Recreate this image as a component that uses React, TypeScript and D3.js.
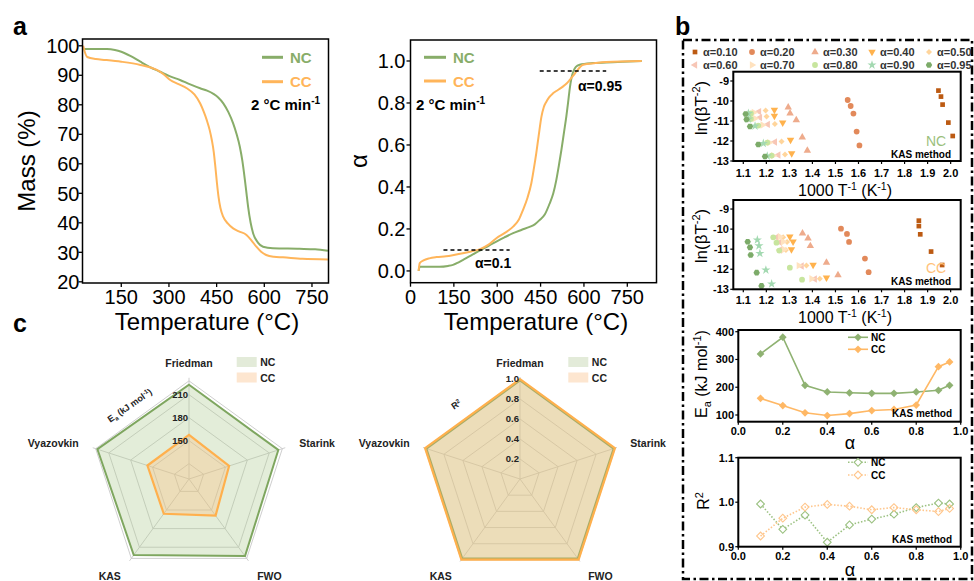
import React from 'react';
import * as d3 from 'd3';

const FONT = "'Liberation Sans', Arial, Helvetica, sans-serif";
const NC = '#88ad69';
const CC = '#ffb55a';

// ---------- Panel a: TGA mass ----------
const ncMassT = [30, 60, 105, 130, 150, 180, 210, 240, 272, 300, 335, 365, 398, 420, 440, 455, 471, 487, 502, 513, 523, 531, 539, 544, 549, 557, 565, 580, 596, 627, 711, 760, 800];
const ncMass = [98.9, 98.9, 98.9, 98.6, 98.0, 96.5, 94.6, 92.8, 91.2, 89.8, 88.4, 87.0, 85.6, 84.8, 83.7, 82.5, 80.5, 77.5, 73.7, 70, 65.8, 61, 54.5, 50, 45.5, 40, 36.4, 33.3, 31.9, 31.4, 31.2, 31.0, 30.5];
const ccMassT = [30, 35, 43, 70, 100, 150, 210, 262, 285, 304, 330, 356, 380, 398, 410, 419, 428, 435, 441, 446, 451, 456, 462, 471, 485, 502, 520, 544, 560, 575, 590, 606, 630, 659, 720, 800];
const ccMass = [100, 98, 96.2, 95.5, 95.2, 94.6, 93.5, 91.8, 90.2, 88.4, 87.0, 85.6, 83.5, 80.5, 77.5, 74.8, 71.5, 68, 64, 59, 53.5, 48.8, 45, 42, 39.8, 38.1, 37.1, 35.9, 34, 31.9, 30.2, 29.1, 28.5, 28.3, 27.8, 27.6];

// ---------- Panel a: conversion ----------
const ncAlphaT = [28, 32, 60, 100, 130, 147, 165, 181, 210, 239, 270, 297, 325, 355, 385, 412, 430, 447, 465, 481, 494, 504, 513, 522, 531, 539, 545, 551, 557, 563, 572, 585, 631, 700, 800];
const ncAlpha = [0, 0.02, 0.02, 0.02, 0.024, 0.029, 0.04, 0.052, 0.074, 0.097, 0.12, 0.14, 0.16, 0.18, 0.196, 0.21, 0.222, 0.243, 0.27, 0.32, 0.37, 0.43, 0.5, 0.576, 0.66, 0.735, 0.8, 0.87, 0.92, 0.95, 0.972, 0.982, 0.99, 0.994, 1.0];
const ccAlphaT = [28, 32, 45, 65, 90, 123, 150, 181, 210, 239, 270, 297, 325, 355, 375, 389, 405, 418, 427, 435, 443, 453, 461, 470, 480, 493, 510, 527, 540, 551, 563, 574, 586, 597, 640, 677, 800];
const ccAlpha = [0, 0.037, 0.05, 0.06, 0.066, 0.07, 0.076, 0.084, 0.093, 0.103, 0.125, 0.156, 0.18, 0.211, 0.245, 0.29, 0.35, 0.418, 0.49, 0.56, 0.64, 0.735, 0.78, 0.806, 0.828, 0.846, 0.862, 0.878, 0.893, 0.91, 0.93, 0.95, 0.97, 0.982, 0.99, 0.995, 1.0];

const massTicks = [20, 30, 40, 50, 60, 70, 80, 90, 100];
const tempTicksA = [150, 300, 450, 600, 750];
const tempTicksB = [0, 150, 300, 450, 600, 750];
const alphaTicks = [0, 0.2, 0.4, 0.6, 0.8, 1.0];

// ---------- Panel b: KAS ----------
const alphaLevels = ['0.10', '0.20', '0.30', '0.40', '0.50', '0.60', '0.70', '0.80', '0.90', '0.95'];
const alphaColors = ['#bc5a12', '#e2895a', '#eeab8c', '#ffb24d', '#ffd59c', '#f7c6b6', '#ffe2bf', '#c7e59e', '#a3d9b1', '#7cab69'];
const alphaShapes = ['square', 'circle', 'triUp', 'triDown', 'diamond', 'triLeft', 'triRight', 'circle', 'star', 'hex'];

const ncKasX = [
  [1.947, 1.958, 1.965, 1.99, 2.009],
  [1.553, 1.566, 1.578, 1.592, 1.604],
  [1.295, 1.303, 1.33, 1.356, 1.378],
  [1.235, 1.235, 1.271, 1.305, 1.31],
  [1.197, 1.201, 1.237, 1.266, 1.281],
  [1.168, 1.172, 1.206, 1.237, 1.252],
  [1.146, 1.151, 1.184, 1.213, 1.23],
  [1.133, 1.133, 1.165, 1.204, 1.223],
  [1.122, 1.122, 1.151, 1.187, 1.204],
  [1.11, 1.114, 1.129, 1.165, 1.194],
];
const ncKasY = [
  [-9.48, -9.78, -10.18, -11.08, -11.75],
  [-9.95, -10.25, -10.63, -11.53, -12.22],
  [-10.32, -10.62, -10.95, -11.82, -12.48],
  [-10.45, -10.75, -11.08, -11.95, -12.62],
  [-10.48, -10.78, -11.15, -12.03, -12.67],
  [-10.53, -10.83, -11.17, -12.05, -12.7],
  [-10.57, -10.87, -11.2, -12.08, -12.73],
  [-10.62, -10.9, -11.23, -12.08, -12.73],
  [-10.62, -10.9, -11.25, -12.12, -12.75],
  [-10.65, -10.92, -11.28, -12.17, -12.78],
];
const ccKasX = [
  [1.862, 1.862, 1.868, 1.915, 1.963],
  [1.524, 1.55, 1.559, 1.628, 1.644],
  [1.357, 1.381, 1.391, 1.461, 1.511],
  [1.302, 1.316, 1.309, 1.403, 1.461],
  [1.273, 1.29, 1.285, 1.374, 1.432],
  [1.244, 1.259, 1.259, 1.353, 1.41],
  [1.259, 1.273, 1.276, 1.341, 1.396],
  [1.23, 1.244, 1.256, 1.302, 1.355],
  [1.161, 1.168, 1.172, 1.198, 1.223],
  [1.119, 1.129, 1.132, 1.158, 1.179],
];
const ccKasY = [
  [-9.58, -9.85, -10.26, -11.12, -11.79],
  [-9.98, -10.24, -10.64, -11.47, -12.15],
  [-10.21, -10.46, -10.84, -11.67, -12.29],
  [-10.38, -10.63, -11.01, -11.79, -12.42],
  [-10.41, -10.64, -11.04, -11.82, -12.47],
  [-10.41, -10.66, -11.04, -11.84, -12.49],
  [-10.38, -10.63, -11.02, -11.82, -12.47],
  [-10.41, -10.68, -11.07, -11.92, -12.52],
  [-10.54, -10.83, -11.21, -12.04, -12.73],
  [-10.63, -10.91, -11.29, -12.17, -12.83],
];
const kasXTicks = [1.1, 1.2, 1.3, 1.4, 1.5, 1.6, 1.7, 1.8, 1.9, 2.0];
const kasYTicks = [-13, -12, -11, -10, -9];

const conv = [0.1, 0.2, 0.3, 0.4, 0.5, 0.6, 0.7, 0.8, 0.9, 0.95];
const eaNC = [320, 380, 207, 183, 180, 178, 178, 183, 189, 207];
const eaCC = [160, 134, 108, 98, 105, 116, 120, 136, 274, 291];
const r2NC = [0.996, 0.939, 0.971, 0.91, 0.949, 0.962, 0.973, 0.988, 0.998, 0.996];
const r2CC = [0.924, 0.964, 0.989, 0.995, 0.991, 0.983, 0.988, 0.983, 0.979, 0.986];
const convTicks = [0, 0.2, 0.4, 0.6, 0.8, 1.0];
const eaTicks = [100, 200, 300, 400];
const r2Ticks = [0.9, 1.0, 1.1];

// ---------- Panel c: radar ----------
const methods = ['Friedman', 'Starink', 'FWO', 'KAS', 'Vyazovkin'];
const radarEaNC = [223, 222.5, 224.3, 222.6, 225.6];
const radarEaCC = [157.7, 155, 159, 156, 157];
const radarR2NC = [0.986, 0.984, 0.982, 0.982, 0.984];
const radarR2CC = [0.999, 0.998, 0.997, 0.997, 0.998];
const eaRings = [120, 150, 180, 210, 228];
const eaRingLabels = [150, 180, 210];
const r2Rings = [0.2, 0.4, 0.6, 0.8, 1.0];
const r2RingLabels = [0.2, 0.4, 0.6, 0.8, 1.0];

function linePath(xs: number[], ys: number[], x: any, y: any, smooth = true) {
  const g = d3.line<number>().x((i) => x(xs[i])).y((i) => y(ys[i]));
  if (smooth) g.curve(d3.curveMonotoneX);
  return g(d3.range(xs.length)) || '';
}

function symPath(kind: string): { d: string; rot: number } {
  const tri = d3.symbol(d3.symbolTriangle, 24)() || '';
  switch (kind) {
    case 'square': return { d: d3.symbol(d3.symbolSquare, 22)() || '', rot: 0 };
    case 'circle': return { d: d3.symbol(d3.symbolCircle, 26)() || '', rot: 0 };
    case 'triUp': return { d: tri, rot: 0 };
    case 'triDown': return { d: tri, rot: 180 };
    case 'triLeft': return { d: tri, rot: -90 };
    case 'triRight': return { d: tri, rot: 90 };
    case 'diamond': return { d: d3.symbol(d3.symbolSquare, 18)() || '', rot: 45 };
    case 'star': return { d: d3.symbol(d3.symbolStar, 26)() || '', rot: 0 };
    case 'hex': {
      const r = 3.2;
      const pts = d3.range(6).map((k) => [r * Math.cos((k * Math.PI) / 3), r * Math.sin((k * Math.PI) / 3)]);
      return { d: 'M' + pts.map((p) => p.join(',')).join('L') + 'Z', rot: 0 };
    }
  }
  return { d: '', rot: 0 };
}

function Marker({ x, y, kind, color }: { x: number; y: number; kind: string; color: string }) {
  const s = symPath(kind);
  return <path d={s.d} transform={`translate(${x},${y}) rotate(${s.rot})`} fill={color} />;
}

// ---------- Panel a components ----------
function MassPanel() {
  const x = d3.scaleLinear().domain([28, 802]).range([82.5, 328.5]);
  const y = d3.scaleLinear().domain([19.6, 102.3]).range([283, 39]);
  return (
    <g>
      <path d={linePath(ncMassT, ncMass, x, y)} fill="none" stroke={NC} strokeWidth={2} />
      <path d={linePath(ccMassT, ccMass, x, y)} fill="none" stroke={CC} strokeWidth={2} />
      <rect x={82.5} y={39} width={246} height={244} fill="none" stroke="#000" strokeWidth={1.5} />
      {massTicks.map((t) => (
        <g key={t}>
          <line x1={82.5} x2={78.5} y1={y(t)} y2={y(t)} stroke="#000" strokeWidth={1.3} />
          <text x={79.5} y={y(t)} dy="0.36em" textAnchor="end" fontSize={20}>{t}</text>
        </g>
      ))}
      {tempTicksA.map((t) => (
        <g key={t}>
          <line x1={x(t)} x2={x(t)} y1={283} y2={287} stroke="#000" strokeWidth={1.3} />
          <text x={x(t)} y={304} textAnchor="middle" fontSize={20}>{t}</text>
        </g>
      ))}
      <text transform="translate(35,161) rotate(-90)" textAnchor="middle" fontSize={24}>Mass (%)</text>
      <text x={207} y={330} textAnchor="middle" fontSize={24}>Temperature (°C)</text>
      <line x1={262} x2={283} y1={57.3} y2={57.3} stroke={NC} strokeWidth={3} />
      <text x={290} y={63} fontSize={15} fontWeight="bold" fill={NC}>NC</text>
      <line x1={262} x2={283} y1={81.7} y2={81.7} stroke={CC} strokeWidth={3} />
      <text x={290} y={87.3} fontSize={15} fontWeight="bold" fill={CC}>CC</text>
      <text x={251} y={110} fontSize={15} fontWeight="bold">2 °C min<tspan dy={-6} fontSize={10}>-1</tspan></text>
    </g>
  );
}

function AlphaPanel() {
  const x = d3.scaleLinear().domain([0, 851]).range([410.5, 656.5]);
  const y = d3.scaleLinear().domain([-0.056, 1.1]).range([282.7, 40]);
  return (
    <g>
      <path d={linePath(ncAlphaT, ncAlpha, x, y)} fill="none" stroke={NC} strokeWidth={2} />
      <path d={linePath(ccAlphaT, ccAlpha, x, y)} fill="none" stroke={CC} strokeWidth={2} />
      <line x1={x(447)} x2={x(677)} y1={y(0.952)} y2={y(0.952)} stroke="#000" strokeWidth={1.5} strokeDasharray="4,3" />
      <line x1={x(114)} x2={x(343)} y1={y(0.1)} y2={y(0.1)} stroke="#000" strokeWidth={1.5} strokeDasharray="4,3" />
      <text x={578} y={91} fontSize={14} fontWeight="bold">α=0.95</text>
      <text x={475} y={268} fontSize={14} fontWeight="bold">α=0.1</text>
      <rect x={410.5} y={40} width={246} height={242.7} fill="none" stroke="#000" strokeWidth={1.5} />
      {alphaTicks.map((t) => (
        <g key={t}>
          <line x1={410.5} x2={406.5} y1={y(t)} y2={y(t)} stroke="#000" strokeWidth={1.3} />
          <text x={405.5} y={y(t)} dy="0.36em" textAnchor="end" fontSize={20}>{t.toFixed(1)}</text>
        </g>
      ))}
      {tempTicksB.map((t) => (
        <g key={t}>
          <line x1={x(t)} x2={x(t)} y1={282.7} y2={286.7} stroke="#000" strokeWidth={1.3} />
          <text x={x(t)} y={304} textAnchor="middle" fontSize={20}>{t}</text>
        </g>
      ))}
      <text transform="translate(367,161) rotate(-90)" textAnchor="middle" fontSize={24}>α</text>
      <text x={536} y={330} textAnchor="middle" fontSize={24}>Temperature (°C)</text>
      <line x1={424} x2={446} y1={57.3} y2={57.3} stroke={NC} strokeWidth={3} />
      <text x={453} y={63} fontSize={15} fontWeight="bold" fill={NC}>NC</text>
      <line x1={424} x2={446} y1={81} y2={81} stroke={CC} strokeWidth={3} />
      <text x={453} y={86.7} fontSize={15} fontWeight="bold" fill={CC}>CC</text>
      <text x={416} y={110} fontSize={15} fontWeight="bold">2 °C min<tspan dy={-6} fontSize={10}>-1</tspan></text>
    </g>
  );
}

// ---------- Panel b components ----------
function KasPanel(props: {
  y0: number; y1: number; yTop: number; xsArr: number[][]; ysArr: number[][];
  tag: string; tagColor: string; tagY: number; methodY: number; tickY: number; titleY: number; ylabY: number;
}) {
  const { y0, y1, yTop, xsArr, ysArr, tag, tagColor, tagY, methodY, tickY, titleY, ylabY } = props;
  const x = d3.scaleLinear().domain([1.0566, 2.0436]).range([733.3, 960.7]);
  const y = d3.scaleLinear().domain([-13, yTop]).range([y1, y0]);
  return (
    <g>
      {xsArr.map((xs, k) =>
        xs.map((v, i) => (
          <Marker key={k + '-' + i} x={x(v)} y={y(ysArr[k][i])} kind={alphaShapes[k]} color={alphaColors[k]} />
        ))
      )}
      <rect x={733.3} y={y0} width={227.4} height={y1 - y0} fill="none" stroke="#000" strokeWidth={2} />
      {kasYTicks.map((t) => (
        <g key={t}>
          <line x1={733.3} x2={730.3} y1={y(t)} y2={y(t)} stroke="#000" strokeWidth={1.2} />
          <text x={729} y={y(t)} dy="0.36em" textAnchor="end" fontSize={11} fontWeight="bold">{t}</text>
        </g>
      ))}
      {kasXTicks.map((t) => (
        <g key={t}>
          <line x1={x(t)} x2={x(t)} y1={y1} y2={y1 + 3} stroke="#000" strokeWidth={1.2} />
          <text x={x(t)} y={tickY} textAnchor="middle" fontSize={11} fontWeight="bold">{t.toFixed(1)}</text>
        </g>
      ))}
      <text x={845} y={titleY} textAnchor="middle" fontSize={16}>
        1000 T<tspan dy={-6} fontSize={10.5}>-1</tspan><tspan dy={6}> (K</tspan><tspan dy={-6} fontSize={10.5}>-1</tspan><tspan dy={6}>)</tspan>
      </text>
      <text transform={`translate(707,${ylabY}) rotate(-90)`} textAnchor="middle" fontSize={17}>
        ln(βT<tspan dy={-7} fontSize={11}>-2</tspan><tspan dy={7}>)</tspan>
      </text>
      <text x={926} y={tagY} fontSize={14} fill={tagColor}>{tag}</text>
      <text x={951} y={methodY} textAnchor="end" fontSize={10} fontWeight="bold">KAS method</text>
    </g>
  );
}

function KasLegend() {
  const textX = [703, 760, 823, 880, 937];
  return (
    <g>
      {alphaLevels.map((a, k) => {
        const col = k % 5;
        const row = Math.floor(k / 5);
        const yy = row === 0 ? 52 : 65;
        return (
          <g key={a}>
            <Marker x={textX[col] - 8} y={yy} kind={alphaShapes[k]} color={alphaColors[k]} />
            <text x={textX[col]} y={yy + 4} fontSize={11} fontWeight="bold" fill="#333">α={a}</text>
          </g>
        );
      })}
    </g>
  );
}

function EaPanel() {
  const x = d3.scaleLinear().domain([0, 1]).range([738.3, 960.7]);
  const y = d3.scaleLinear().domain([75.9, 406.1]).range([421.7, 330]);
  const diamond = d3.symbol(d3.symbolSquare, 30)() || '';
  const ncC = '#8fb272';
  const ccC = '#ffb865';
  return (
    <g>
      <path d={linePath(conv, eaNC, x, y, false)} fill="none" stroke={ncC} strokeWidth={1.6} />
      <path d={linePath(conv, eaCC, x, y, false)} fill="none" stroke={ccC} strokeWidth={1.6} />
      {conv.map((c, i) => (
        <g key={c}>
          <path d={diamond} transform={`translate(${x(c)},${y(eaNC[i])}) rotate(45)`} fill={ncC} />
          <path d={diamond} transform={`translate(${x(c)},${y(eaCC[i])}) rotate(45)`} fill={ccC} />
        </g>
      ))}
      <rect x={738.3} y={330} width={222.4} height={91.7} fill="none" stroke="#000" strokeWidth={2} />
      {eaTicks.map((t) => (
        <g key={t}>
          <line x1={738.3} x2={735.3} y1={y(t)} y2={y(t)} stroke="#000" strokeWidth={1.2} />
          <text x={734} y={y(t)} dy="0.36em" textAnchor="end" fontSize={11} fontWeight="bold">{t}</text>
        </g>
      ))}
      {convTicks.map((t) => (
        <g key={t}>
          <line x1={x(t)} x2={x(t)} y1={421.7} y2={424.7} stroke="#000" strokeWidth={1.2} />
          <text x={x(t)} y={434.5} textAnchor="middle" fontSize={11} fontWeight="bold">{t.toFixed(1)}</text>
        </g>
      ))}
      <line x1={848} x2={868} y1={337.3} y2={337.3} stroke={ncC} strokeWidth={1.6} />
      <path d={diamond} transform="translate(858,337.3) rotate(45)" fill={ncC} />
      <text x={871} y={340.8} fontSize={10} fontWeight="bold">NC</text>
      <line x1={848} x2={868} y1={349.3} y2={349.3} stroke={ccC} strokeWidth={1.6} />
      <path d={diamond} transform="translate(858,349.3) rotate(45)" fill={ccC} />
      <text x={871} y={352.8} fontSize={10} fontWeight="bold">CC</text>
      <text x={952} y={417} textAnchor="end" fontSize={10} fontWeight="bold">KAS method</text>
      <text transform="translate(707,374) rotate(-90)" textAnchor="middle" fontSize={16}>
        E<tspan dy={4} fontSize={11}>a</tspan><tspan dy={-4}> (kJ mol</tspan><tspan dy={-6} fontSize={11}>-1</tspan><tspan dy={6}>)</tspan>
      </text>
      <text x={850} y={449} textAnchor="middle" fontSize={18}>α</text>
    </g>
  );
}

function R2Panel() {
  const x = d3.scaleLinear().domain([0, 1]).range([738.3, 960.7]);
  const y = d3.scaleLinear().domain([0.9, 1.1]).range([546.7, 457.7]);
  const diamond = d3.symbol(d3.symbolSquare, 30)() || '';
  const ncC = '#9bc181';
  const ccC = '#ffc68c';
  return (
    <g>
      <path d={linePath(conv, r2NC, x, y, false)} fill="none" stroke={ncC} strokeWidth={1.6} strokeDasharray="1.5,1.8" />
      <path d={linePath(conv, r2CC, x, y, false)} fill="none" stroke={ccC} strokeWidth={1.6} strokeDasharray="1.5,1.8" />
      {conv.map((c, i) => (
        <g key={c}>
          <path d={diamond} transform={`translate(${x(c)},${y(r2NC[i])}) rotate(45)`} fill="#fff" stroke={ncC} strokeWidth={1.1} />
          <path d={diamond} transform={`translate(${x(c)},${y(r2CC[i])}) rotate(45)`} fill="#fff" fillOpacity={0} stroke={ccC} strokeWidth={1.1} />
        </g>
      ))}
      <rect x={738.3} y={457.7} width={222.4} height={89} fill="none" stroke="#000" strokeWidth={2} />
      {r2Ticks.map((t) => (
        <g key={t}>
          <line x1={738.3} x2={735.3} y1={y(t)} y2={y(t)} stroke="#000" strokeWidth={1.2} />
          <text x={734} y={y(t)} dy="0.36em" textAnchor="end" fontSize={11} fontWeight="bold">{t.toFixed(1)}</text>
        </g>
      ))}
      {convTicks.map((t) => (
        <g key={t}>
          <line x1={x(t)} x2={x(t)} y1={546.7} y2={549.7} stroke="#000" strokeWidth={1.2} />
          <text x={x(t)} y={559.5} textAnchor="middle" fontSize={11} fontWeight="bold">{t.toFixed(1)}</text>
        </g>
      ))}
      <line x1={848} x2={868} y1={462.3} y2={462.3} stroke={ncC} strokeWidth={1.6} strokeDasharray="1.5,1.8" />
      <path d={diamond} transform="translate(858,462.3) rotate(45)" fill="#fff" stroke={ncC} strokeWidth={1.1} />
      <text x={871} y={465.8} fontSize={10} fontWeight="bold">NC</text>
      <line x1={848} x2={868} y1={475} y2={475} stroke={ccC} strokeWidth={1.6} strokeDasharray="1.5,1.8" />
      <path d={diamond} transform="translate(858,475) rotate(45)" fill="#fff" stroke={ccC} strokeWidth={1.1} />
      <text x={871} y={478.5} fontSize={10} fontWeight="bold">CC</text>
      <text x={952} y={543} textAnchor="end" fontSize={10} fontWeight="bold">KAS method</text>
      <text transform="translate(709,501) rotate(-90)" textAnchor="middle" fontSize={16}>
        R<tspan dy={-6} fontSize={11}>2</tspan>
      </text>
      <text x={850} y={576} textAnchor="middle" fontSize={18}>α</text>
    </g>
  );
}

// ---------- Panel c component ----------
function Radar(props: {
  cx: number; cy: number; r: any; rings: number[]; ringLabels: number[]; fmt: (v: number) => string;
  nc: number[]; cc: number[]; legendX: number; title: React.ReactNode; titleX: number; titleY: number;
}) {
  const { cx, cy, r, rings, ringLabels, fmt, nc, cc, legendX, title, titleX, titleY } = props;
  const ang = (i: number) => (i * 2 * Math.PI) / methods.length;
  const pt = (v: number, i: number) => [cx + r(v) * Math.sin(ang(i)), cy - r(v) * Math.cos(ang(i))];
  const poly = (vals: number[]) => vals.map((v, i) => pt(v, i).join(',')).join(' ');
  const spokeEnd = r.domain()[1];
  return (
    <g>
      {rings.map((rv) => (
        <polygon key={rv} points={poly(methods.map(() => rv))} fill="none" stroke="#c8c8c8" strokeWidth={0.9} />
      ))}
      {methods.map((m, i) => {
        const [x2, y2] = pt(spokeEnd, i);
        return <line key={m} x1={cx} y1={cy} x2={x2} y2={y2} stroke="#c8c8c8" strokeWidth={0.9} />;
      })}
      <polygon points={poly(nc)} fill="rgba(178,205,150,0.36)" stroke="#7ea65f" strokeWidth={2} />
      <polygon points={poly(cc)} fill="rgba(255,188,120,0.33)" stroke="#ffb04d" strokeWidth={2.2} />
      {ringLabels.map((v) => (
        <text key={v} x={cx - 1} y={cy - r(v)} dy="0.36em" textAnchor="end" fontSize={9.5} fontWeight="bold" fill="#222">{fmt(v)}</text>
      ))}
      {methods.map((m, i) => {
        const a = ang(i);
        const s = Math.sin(a);
        const c = -Math.cos(a);
        const R = 116;
        const anchor = Math.abs(s) < 0.1 ? 'middle' : s > 0 ? 'start' : 'end';
        const extra = c > 0.5 ? 4 : 0;
        return (
          <text key={m} x={cx + R * s} y={cy + R * c + 3.5 + extra} textAnchor={anchor} fontSize={10.5} fontWeight="bold" fill="#222">{m}</text>
        );
      })}
      <text transform={`translate(${titleX},${titleY}) rotate(-35)`} textAnchor="middle" fontSize={9} fontWeight="bold" fill="#222">{title}</text>
      <rect x={legendX} y={357} width={20} height={10} fill="#e3ebd9" />
      <text x={legendX + 23.5} y={366} fontSize={10.5} fontWeight="bold" fill="#222">NC</text>
      <rect x={legendX} y={372.5} width={20} height={10} fill="#fde6d0" />
      <text x={legendX + 23.5} y={381.5} fontSize={10.5} fontWeight="bold" fill="#222">CC</text>
    </g>
  );
}

export default function App() {
  const rEa = d3.scaleLinear().domain([100, 232]).range([0, 101.2]);
  const rR2 = d3.scaleLinear().domain([0, 1.02]).range([0, 102]);
  return (
    <svg width={974} height={581} style={{ position: 'absolute', left: 0, top: 0 }} fontFamily={FONT}>
      <rect width={974} height={581} fill="#fff" />
      <MassPanel />
      <AlphaPanel />
      <rect x={683} y={40} width={289} height={539} fill="none" stroke="#000" strokeWidth={2.5} strokeDasharray="9,3.5,2.5,3.5" />
      <KasLegend />
      <KasPanel y0={71.7} y1={161} yTop={-8.535} xsArr={ncKasX} ysArr={ncKasY} tag="NC" tagColor="#9bbf7c" tagY={146} methodY={158} tickY={176.5} titleY={195.5} ylabY={108} />
      <KasPanel y0={200} y1={289.3} yTop={-8.55} xsArr={ccKasX} ysArr={ccKasY} tag="CC" tagColor="#ffc27a" tagY={272.5} methodY={284.5} tickY={304} titleY={322.5} ylabY={236} />
      <EaPanel />
      <R2Panel />
      <Radar cx={189} cy={479} r={rEa} rings={eaRings} ringLabels={eaRingLabels} fmt={(v) => String(v)} nc={radarEaNC} cc={radarEaCC} legendX={236.7}
        title={<>E<tspan dy={2} fontSize={6}>a</tspan><tspan dy={-2}> (kJ mol</tspan><tspan dy={-3} fontSize={6}>-1</tspan><tspan dy={3}>)</tspan></>} titleX={131.5} titleY={408} />
      <Radar cx={520} cy={479} r={rR2} rings={r2Rings} ringLabels={r2RingLabels} fmt={(v) => v.toFixed(1)} nc={radarR2NC} cc={radarR2CC} legendX={568.3}
        title={<>R<tspan dy={-3} fontSize={6}>2</tspan></>} titleX={458} titleY={407} />
      <text x={13} y={35} fontSize={25} fontWeight="bold">a</text>
      <text x={675} y={35} fontSize={25} fontWeight="bold">b</text>
      <text x={13} y={332} fontSize={25} fontWeight="bold">c</text>
    </svg>
  );
}
